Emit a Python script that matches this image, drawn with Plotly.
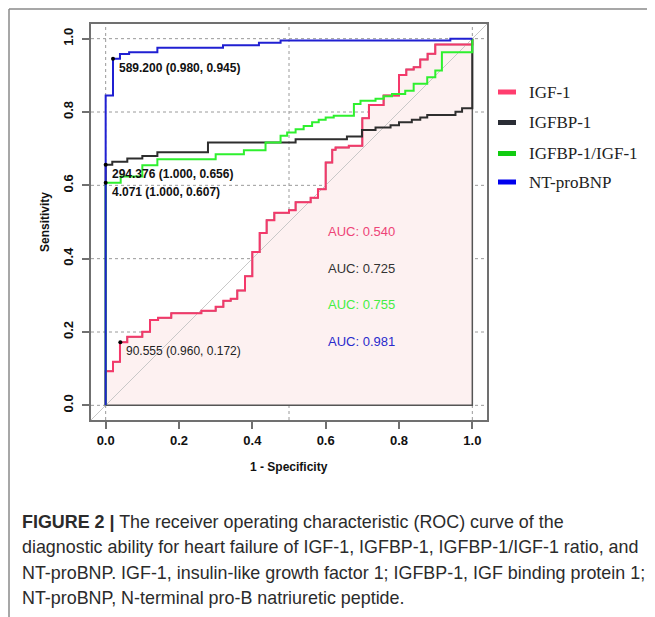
import plotly.graph_objects as go

# ---------------- data ----------------
series_names = ["IGF-1", "IGFBP-1", "IGFBP-1/IGF-1", "NT-proBNP"]

igf1_fpr = [0, 0.02, 0.039, 0.059, 0.10, 0.121, 0.143, 0.179, 0.261, 0.30, 0.321, 0.341, 0.359,
            0.38, 0.40, 0.42, 0.439, 0.46, 0.50, 0.518, 0.559, 0.579, 0.60, 0.618, 0.627, 0.663,
            0.70, 0.718, 0.758, 0.80, 0.82, 0.84, 0.858, 0.878, 0.899, 1.0, 1.0]
igf1_tpr = [0, 0.093, 0.119, 0.172, 0.187, 0.201, 0.233, 0.239, 0.251, 0.258, 0.269, 0.285, 0.291,
            0.313, 0.352, 0.418, 0.47, 0.505, 0.525, 0.532, 0.554, 0.566, 0.589, 0.662, 0.697, 0.703,
            0.708, 0.783, 0.819, 0.845, 0.901, 0.916, 0.922, 0.943, 0.959, 0.984, 1.0]

igfbp1_fpr = [0, 0.018, 0.059, 0.10, 0.141, 0.279, 0.518, 0.658, 0.699, 0.736, 0.777, 0.80, 0.835,
              0.858, 0.877, 0.954, 0.972, 1.0, 1.0]
igfbp1_tpr = [0, 0.656, 0.664, 0.673, 0.680, 0.690, 0.717, 0.726, 0.733, 0.751, 0.758, 0.764, 0.772,
              0.779, 0.785, 0.792, 0.801, 0.81, 1.0]

ratio_fpr = [0, 0.041, 0.10, 0.141, 0.30, 0.377, 0.436, 0.477, 0.495, 0.518, 0.54, 0.563, 0.581, 0.60,
             0.622, 0.677, 0.695, 0.736, 0.758, 0.781, 0.817, 0.84, 0.877, 0.899, 0.917, 1.0, 1.0]
ratio_tpr = [0, 0.607, 0.624, 0.655, 0.671, 0.685, 0.696, 0.717, 0.735, 0.744, 0.753, 0.762, 0.772, 0.779,
             0.785, 0.790, 0.822, 0.831, 0.836, 0.843, 0.849, 0.858, 0.877, 0.895, 0.913, 0.963, 1.0]

bnp_fpr = [0, 0.02, 0.039, 0.064, 0.141, 0.32, 0.418, 0.477, 0.94, 1.0]
bnp_tpr = [0, 0.845, 0.945, 0.958, 0.963, 0.975, 0.982, 0.989, 0.995, 1.0]

auc_values = [0.540, 0.725, 0.755, 0.981]
auc_label_y = [0.5, 0.4, 0.3, 0.2]

# best thresholds: (threshold, specificity, sensitivity)
thr_values = [589.200, 294.376, 4.071, 90.555]
thr_spec = [0.980, 1.000, 1.000, 0.960]
thr_sens = [0.945, 0.656, 0.607, 0.172]
thr_bold = [True, True, True, False]

tick_vals = [0.0, 0.2, 0.4, 0.6, 0.8, 1.0]
tick_text = ["0.0", "0.2", "0.4", "0.6", "0.8", "1.0"]
xgrid_vals = [0.0, 0.5, 1.0]
ygrid_vals = [0.0, 0.2, 0.4, 0.6, 0.8, 1.0]

line_colors = ["#f5386a", "#2e2e2e", "#2ef02e", "#2020d2"]
legend_colors = ["#ff3d6e", "#2a2d35", "#11cc11", "#0000ee"]
auc_colors = ["#ee4477", "#333333", "#44ee44", "#2a2acc"]

caption_lines = [
    "<b>FIGURE 2 |</b> The receiver operating characteristic (ROC) curve of the",
    "diagnostic ability for heart failure of IGF-1, IGFBP-1, IGFBP-1/IGF-1 ratio, and",
    "NT-proBNP. IGF-1, insulin-like growth factor 1; IGFBP-1, IGF binding protein 1;",
    "NT-proBNP, N-terminal pro-B natriuretic peptide.",
]

# ---------------- layout constants ----------------
OFF = 8                      # page body margin
W, H = 655 - OFF, 617 - OFF
ML, MT = 91 - OFF, 24 - OFF
PW = PH = 396
MR = W - ML - PW
MB = H - MT - PH
XR = [-0.04, 1.04]
YR = [-0.04, 1.04]


def px_x(px):
    return (px - OFF - ML) / PW


def px_y(py):
    return (MT + PH - (py - OFF)) / PH


def steps(xs, ys):
    px, py = [xs[0]], [ys[0]]
    for i in range(1, len(xs)):
        px += [xs[i - 1], xs[i]]
        py += [ys[i], ys[i]]
    return px, py


curves = [(igf1_fpr, igf1_tpr), (igfbp1_fpr, igfbp1_tpr), (ratio_fpr, ratio_tpr), (bnp_fpr, bnp_tpr)]

fig = go.Figure()

# AUC polygon under the IGF-1 curve
sx, sy = steps(igf1_fpr, igf1_tpr)
fig.add_trace(go.Scatter(x=sx + [sx[-1], sx[0]], y=sy + [0, 0], fill="toself",
                         fillcolor="#fdf1f1", mode="lines",
                         line=dict(color="#555555", width=1.5), hoverinfo="skip", showlegend=False))

# diagonal reference
fig.add_trace(go.Scatter(x=XR, y=YR, mode="lines", line=dict(color="#c8c8c8", width=1),
                         hoverinfo="skip", showlegend=False))

for (fx, ty), name, col in zip(curves, series_names, line_colors):
    cx, cy = steps(fx, ty)
    fig.add_trace(go.Scatter(x=cx, y=cy, mode="lines", name=name,
                             line=dict(color=col, width=2), showlegend=False))

# threshold points
fig.add_trace(go.Scatter(x=[1 - s for s in thr_spec], y=thr_sens, mode="markers",
                         marker=dict(color="black", size=4), showlegend=False))

shapes = []
for gx in xgrid_vals:
    shapes.append(dict(type="line", xref="x", yref="paper", x0=gx, x1=gx, y0=0, y1=1,
                       line=dict(color="#9a9a9a", width=1, dash="dot"), layer="below"))
for gy in ygrid_vals:
    shapes.append(dict(type="line", xref="paper", yref="y", x0=0, x1=1, y0=gy, y1=gy,
                       line=dict(color="#9a9a9a", width=1, dash="dot"), layer="below"))

# outer frame (left + top)
shapes.append(dict(type="line", xref="paper", yref="paper", x0=px_x(9), x1=px_x(9),
                   y0=px_y(9), y1=px_y(620), line=dict(color="#8a8a8a", width=1.5)))
shapes.append(dict(type="line", xref="paper", yref="paper", x0=px_x(9), x1=px_x(660),
                   y0=px_y(9), y1=px_y(9), line=dict(color="#8a8a8a", width=1.5)))

annotations = []
# AUC labels
for v, yv, col in zip(auc_values, auc_label_y, auc_colors):
    annotations.append(dict(x=0.6, y=yv, xref="x", yref="y", text=f"AUC: {v:.3f}",
                            xanchor="left", yanchor="top", showarrow=False,
                            font=dict(family="Liberation Sans, Arial", size=13, color=col)))
# threshold labels
for t, sp, se, b in zip(thr_values, thr_spec, thr_sens, thr_bold):
    txt = f"{t:.3f} ({sp:.3f}, {se:.3f})"
    annotations.append(dict(x=1 - sp, y=se, xref="x", yref="y", text=f"<b>{txt}</b>" if b else txt,
                            xanchor="left", yanchor="middle", showarrow=False, xshift=4, yshift=-9,
                            font=dict(family="Liberation Sans, Arial", size=12,
                                      color="#111111" if b else "#222222")))

# axis titles
annotations.append(dict(x=0.5, y=px_y(467), xref="x", yref="paper", text="<b>1 - Specificity</b>",
                        showarrow=False, xanchor="center", yanchor="middle",
                        font=dict(family="Liberation Sans, Arial", size=12, color="#111111")))
annotations.append(dict(x=px_x(45), y=0.5, xref="paper", yref="y", text="<b>Sensitivity</b>",
                        showarrow=False, textangle=-90, xanchor="center", yanchor="middle",
                        font=dict(family="Liberation Sans, Arial", size=12, color="#111111")))

# legend
legend_y_px = [92, 122.5, 153.5, 182]
for name, col, ly in zip(series_names, legend_colors, legend_y_px):
    shapes.append(dict(type="line", xref="paper", yref="paper", x0=px_x(498), x1=px_x(516),
                       y0=px_y(ly), y1=px_y(ly), line=dict(color=col, width=5)))
    annotations.append(dict(x=px_x(527), y=px_y(ly), xref="paper", yref="paper", text=name,
                            xanchor="left", yanchor="middle", showarrow=False,
                            font=dict(family="Liberation Serif, Times New Roman", size=17,
                                      color="#222222")))

# caption
cap_y_px = [522, 547, 572.5, 598]
for line, cy in zip(caption_lines, cap_y_px):
    annotations.append(dict(x=px_x(20), y=px_y(cy), xref="paper", yref="paper", text=line,
                            xanchor="left", yanchor="middle", showarrow=False,
                            font=dict(family="Liberation Sans, Arial", size=17.9, color="#2b2b2b")))

axis_common = dict(showline=True, mirror=True, linecolor="#707070", linewidth=1.5,
                   ticks="outside", ticklen=7, tickwidth=1.5, tickcolor="#707070",
                   showgrid=False, zeroline=False, tickvals=tick_vals, ticktext=tick_text,
                   tickfont=dict(family="Liberation Sans, Arial", size=13, color="#111111",
                                 weight="bold"))

fig.update_layout(
    width=W, height=H,
    margin=dict(l=ML, r=MR, t=MT, b=MB),
    paper_bgcolor="white", plot_bgcolor="white",
    xaxis=dict(range=XR, ticklabelstandoff=1, **axis_common),
    yaxis=dict(range=YR, tickangle=-90, ticklabelstandoff=4, **axis_common),
    shapes=shapes, annotations=annotations, showlegend=False,
)

fig.write_html("out.html")
